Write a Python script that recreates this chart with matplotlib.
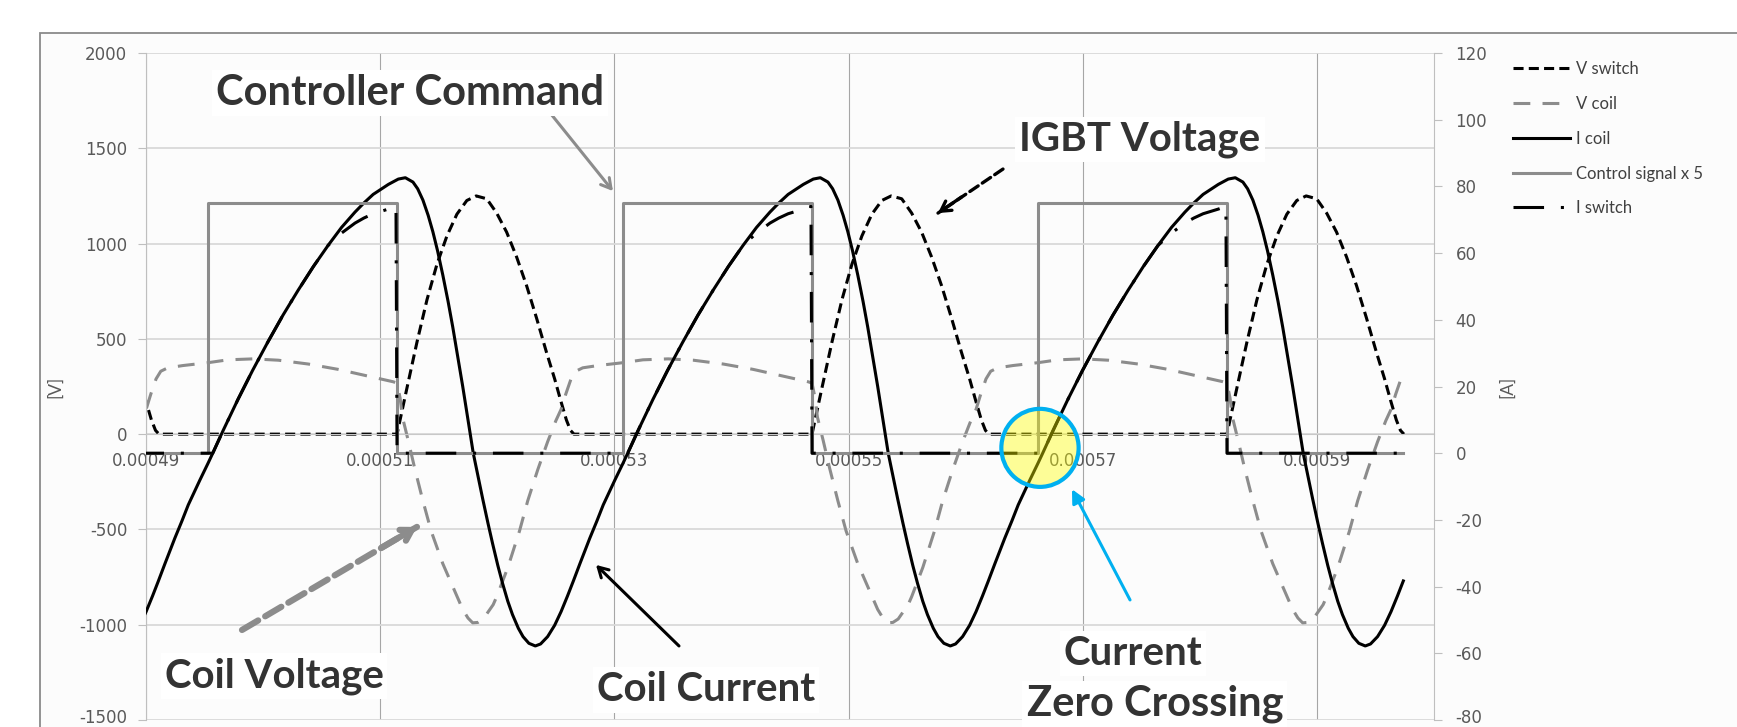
import matplotlib
matplotlib.use("Agg")
import matplotlib.pyplot as plt
import numpy as np
from matplotlib.patches import Rectangle, Ellipse
from matplotlib.transforms import ScaledTranslation

plt.rcParams['font.family'] = ['DejaVu Sans']
plt.rcParams['axes.unicode_minus'] = False

# axis ticks / labels
x_ticks = [0.00049, 0.00051, 0.00053, 0.00055, 0.00057, 0.00059]
x_labels = ['0.00049', '0.00051', '0.00053', '0.00055', '0.00057', '0.00059']
v_ticks = [-1500, -1000, -500, 0, 500, 1000, 1500, 2000]
a_ticks = [-80, -60, -40, -20, 0, 20, 40, 60, 80, 100, 120]

# rising edges of the controller command (s), first one is the cycle before the axis start
rise_times = [0.00045986, 0.00049530, 0.00053074, 0.00056618]
t_end = 0.0005975

# one switching cycle, phase in microseconds after the rising edge
v_switch_us = [0, 16.14, 16.40, 17.0, 17.85, 18.7, 19.55, 20.4, 21.25, 22.1, 22.9, 23.8,
               24.65, 25.5, 26.35, 27.2, 28.05, 28.9, 29.6, 30.1, 30.6, 30.95, 31.25]
v_switch = [0, 0, 75, 246, 485, 706, 892, 1040, 1154, 1226, 1250, 1235,
            1160, 1060, 930, 780, 610, 430, 290, 180, 75, 20, 0]

v_coil_us = [0, 1.7, 3.85, 6.0, 8.55, 11.1, 13.65, 15.8, 16.14, 16.4, 16.6, 17.1, 17.65,
             18.35, 19.05, 20.05, 20.9, 21.75, 22.2, 22.6, 23.05, 23.5, 24.35, 24.65, 25.6,
             26.6, 27.3, 28.15, 29.0, 29.7, 30.15, 30.55, 31.0, 31.4, 32.0, 33.3]
v_coil = [375, 390, 395, 388, 368, 340, 305, 275, 268, 190, 90, -35, -180,
          -350, -508, -680, -800, -920, -965, -990, -988, -970, -895, -853, -700,
          -508, -350, -188, -40, 70, 130, 210, 290, 330, 348, 360]

i_coil_us = [0, 0.4, 1.3, 2.55, 3.8, 5.1, 6.4, 7.7, 9.0, 10.25, 11.4, 12.55, 13.3, 14.1,
             15.4, 16.25, 16.85, 17.5, 17.9, 18.35, 18.8, 19.2, 19.6, 20.05, 20.5, 20.9,
             21.3, 21.75, 22.2, 22.65, 23.1, 23.45, 23.9, 24.3, 24.75, 25.15, 25.6, 26.0,
             26.5, 26.9, 27.4, 27.95, 28.4, 29.0, 29.6, 30.15, 30.7, 31.2, 31.75, 32.6,
             33.2, 33.75, 34.3, 34.75]
i_coil = [-3, 0, 6.9, 16.1, 24.8, 33.3, 41.4, 48.9, 56.0, 62.3, 67.7, 72.3, 75.0, 77.6,
          80.6, 82.2, 82.6, 81.3, 79.3, 75.9, 71.3, 66.4, 60.7, 53.4, 45.5, 37.8,
          29.5, 20.0, 10.1, 0, -7.7, -13.6, -20.9, -27.1, -33.7, -39.0, -44.4, -48.4,
          -52.5, -55.0, -57.0, -57.8, -57.2, -55.0, -51.6, -47.5, -42.8, -38.3, -33.2, -25.5,
          -20.4, -15.5, -11.4, -8.0]

i_switch_us = [0, 0.4, 1.3, 2.55, 3.8, 5.1, 6.4, 7.7, 9.0, 10.25, 11.4, 12.55, 13.3, 14.1,
               15.4, 16.05, 16.14, 31.2]
i_switch = [0, 0, 6.9, 16.1, 24.8, 33.3, 41.4, 48.9, 56.0, 62.3, 66.0, 69.0, 70.5, 71.8,
            73.2, 74.0, 0, 0]

control_us = [0, 0, 16.14, 16.14, 31.2]
control = [0, 75, 75, 0, 0]   # control signal x 5


def build(phase_us, values):
    # repeat the cycle readings at each rising edge
    t, y = [], []
    for r in rise_times:
        for p, v in zip(phase_us, values):
            if r + p * 1e-6 <= t_end:
                t.append(r + p * 1e-6)
                y.append(v)
    return np.array(t), np.array(y)


W, H = 1737, 727
fig = plt.figure(figsize=(W / 100, H / 100), dpi=100)

# chart area border (cut by the picture on the right and bottom)
fig.add_artist(Rectangle((40 / W, -0.05), 1.1, (H - 33) / H + 0.05, transform=fig.transFigure,
                         facecolor='#fcfcfc', edgecolor='#8a8a8a', lw=1.3, zorder=-10))

ax = fig.add_axes([146 / W, 7 / H, 1288 / W, 667 / H])
ax.set_facecolor('none')
ax2 = ax.twinx()

grey = '#8c8c8c'
t, y = build(v_switch_us, v_switch)
l1, = ax.plot(t, y, color='black', lw=2.2, dashes=(3.3, 1.7), label='V switch')
t, y = build(v_coil_us, v_coil)
l2, = ax.plot(t, y, color=grey, lw=2.2, dashes=(5.5, 4), label='V coil')
t, y = build(i_coil_us, i_coil)
l3, = ax2.plot(t, y, color='black', lw=2.2, label='I coil')
t, y = build(control_us, control)
l4, = ax2.plot(t, y, color=grey, lw=2.2, label='Control signal x 5')
t, y = build(i_switch_us, i_switch)
l5, = ax2.plot(t, y, color='black', lw=2.2, dashes=(10, 5.5, 1, 5.5), label='I switch')

ax.set_xlim(0.00049, 0.0006)
ax.set_ylim(-1500, 2000)
ax2.set_ylim(-80, 120)

ax.set_xticks(x_ticks)
ax.set_xticklabels(x_labels)
ax.set_yticks(v_ticks)
ax2.set_yticks(a_ticks)

ax.grid(axis='y', color='#d9d9d9', lw=1.3)
ax.grid(axis='x', color='#a6a6a6', lw=0.8)
ax.set_axisbelow(True)

for s in ['top', 'right']:
    ax.spines[s].set_visible(False)
for s in ['top', 'left', 'bottom']:
    ax2.spines[s].set_visible(False)
ax.spines['bottom'].set_position(('data', 0))
ax.spines['bottom'].set_color('#c8c8c8')
ax.spines['left'].set_color('#bfbfbf')
ax2.spines['right'].set_color('#bfbfbf')

ax.tick_params(axis='x', length=0, pad=13, labelsize=12, labelcolor='#595959')
ax.tick_params(axis='y', length=5.5, color='#bfbfbf', pad=8, labelsize=12, labelcolor='#595959')
ax2.tick_params(axis='y', length=5.5, color='#bfbfbf', pad=10, labelsize=12, labelcolor='#595959')

# lowest labels sit on the picture edge, nudge them up a little
for lab in [ax.get_yticklabels()[0], ax2.get_yticklabels()[0]]:
    lab.set_transform(lab.get_transform() + ScaledTranslation(0, 3 / 72, fig.dpi_scale_trans))

fig.text(55 / W, 1 - 387 / H, '[V]', rotation=90, ha='center', va='center',
         fontfamily='Lato', fontsize=12.5, color='#595959')
fig.text(1507 / W, 1 - 387 / H, '[A]', rotation=90, ha='center', va='center',
         fontfamily='Lato', fontsize=12.5, color='#595959')

fig.legend(handles=[l1, l2, l3, l4, l5], loc='upper left', bbox_to_anchor=(1513 / W, 1 - 61 / H),
           frameon=False, borderpad=0, borderaxespad=0, handlelength=3.4, handletextpad=0.35,
           labelspacing=1.13, prop={'family': 'Lato', 'size': 12}, labelcolor='#404040')

# annotations (placed in right-axis units)
txt = dict(fontfamily='Lato', fontweight='bold', fontsize=29, color='#333333', ha='center',
           va='center', bbox=dict(facecolor='white', edgecolor='none', pad=3), zorder=10)
ax2.text(0.00051255, 108.0, 'Controller Command', **dict(txt, fontsize=30))
ax2.text(0.00057489, 94.0, 'IGBT Voltage', **txt)
ax2.text(0.00050093, -66.8, 'Coil Voltage', **txt)
ax2.text(0.00053783, -71.0, 'Coil Current', **txt)
ax2.text(0.00057429, -60.2, 'Current', **txt)
ax2.text(0.00057617, -75.2, 'Zero Crossing', **dict(txt, fontsize=30))

head = '->,head_length=0.7,head_width=0.4'
ax2.annotate('', xy=(0.00052988, 78.6), xytext=(0.00052459, 101.7),
             arrowprops=dict(arrowstyle=head, color=grey, lw=2.2, shrinkA=0, shrinkB=0))
ax2.annotate('', xy=(0.00052843, -33.5), xytext=(0.00053552, -57.8),
             arrowprops=dict(arrowstyle=head, color='black', lw=2.2, shrinkA=0, shrinkB=0))
ax2.annotate('', xy=(0.00056908, -10.8), xytext=(0.00057404, -44.0),
             arrowprops=dict(arrowstyle='-|>,head_length=0.8,head_width=0.4', color='#00b0f0',
                             lw=2.2, shrinkA=0, shrinkB=0))
# dashed arrows: dashed shaft + solid head
ax2.annotate('', xy=(0.00055764, 72.0), xytext=(0.00056319, 85.2),
             arrowprops=dict(arrowstyle='-', color='black', lw=2.4, linestyle=(0, (3, 1.5)),
                             shrinkA=0, shrinkB=0))
ax2.annotate('', xy=(0.00055764, 72.0), xytext=(0.00055964, 76.8),
             arrowprops=dict(arrowstyle=head, color='black', lw=2.4, shrinkA=0, shrinkB=0))
ax2.annotate('', xy=(0.00051314, -22.1), xytext=(0.00049820, -53.0),
             arrowprops=dict(arrowstyle='-', color=grey, lw=4.5, linestyle=(0, (3, 1.3)),
                             shrinkA=0, shrinkB=0))
ax2.annotate('', xy=(0.00051314, -22.1), xytext=(0.00051014, -28.3),
             arrowprops=dict(arrowstyle='->,head_length=0.75,head_width=0.45', color=grey,
                             lw=4.5, shrinkA=0, shrinkB=0))

ax2.add_patch(Ellipse((0.00056635, 1.6), width=6.6e-6, height=23.4, facecolor=(1, 1, 0, 0.4),
                      edgecolor='#00b0f0', lw=3, zorder=8))

fig.savefig('out.png', dpi=100)
